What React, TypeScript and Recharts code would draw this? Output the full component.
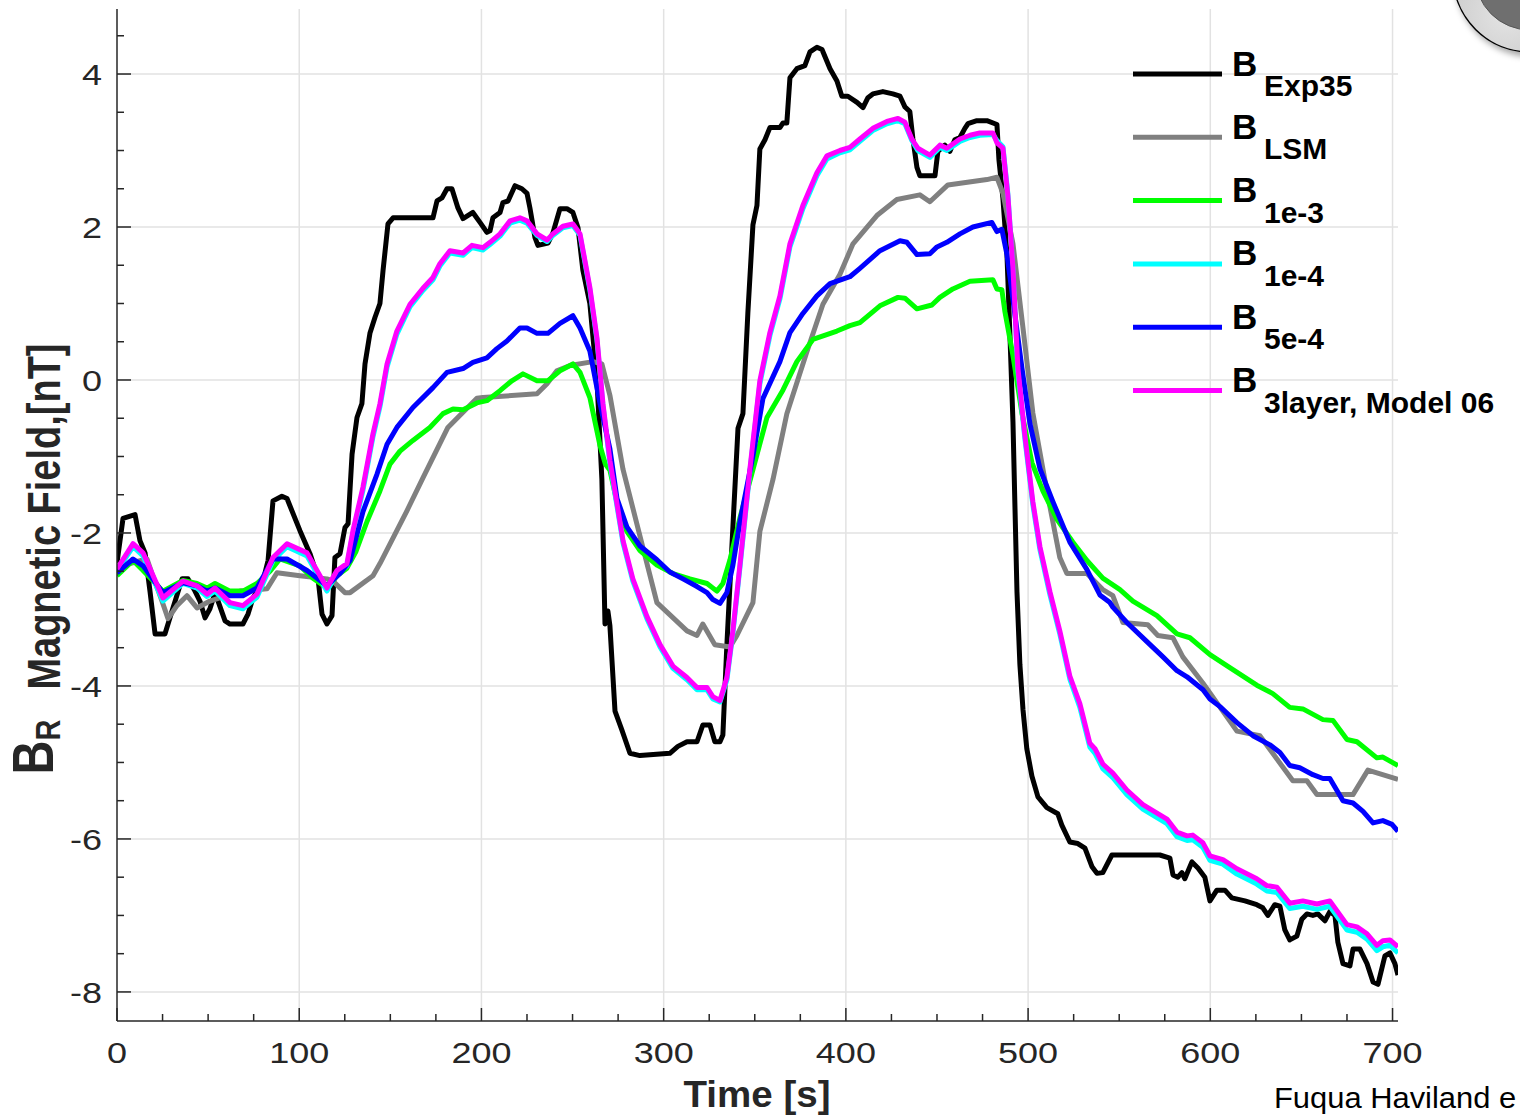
import React from 'react';
import { LineChart, Line, XAxis, YAxis, CartesianGrid, Legend } from 'recharts';

// plot box in page pixels (chart is pinned to the top-left corner)
const PLOT = { left: 117, right: 1398, top: 9, bottom: 1021 };
const AXIS_COLOR = '#262626';
const FONT = '"Liberation Sans", Arial, Helvetica, sans-serif';

const xTicks = [0, 25, 50, 75, 100, 125, 150, 175, 200, 225, 250, 275, 300, 325, 350, 375, 400, 425, 450, 475, 500, 525, 550, 575, 600, 625, 650, 675, 700];
const yTicks = [-8, -7.5, -7, -6.5, -6, -5.5, -5, -4.5, -4, -3.5, -3, -2.5, -2, -1.5, -1, -0.5, 0, 0.5, 1, 1.5, 2, 2.5, 3, 3.5, 4, 4.5];
const xGrid = [100, 200, 300, 400, 500, 600, 700];
const yGrid = [-8, -6, -4, -2, 0, 2, 4];

const seriesNames = ['Exp35', 'LSM', '1e-3', '1e-4', '5e-4', '3layer, Model 06'];
const seriesColors = ['#000000', '#808080', '#00ff00', '#00ffff', '#0000ff', '#ff00ff'];

// [time s, B_R nT]
const exp35: [number, number][] = [
  [0, -2.39], [3.3, -1.81], [9.9, -1.76], [12.6, -2.1], [15.4, -2.26], [18.1, -2.76], [20.9, -3.32], [26.3, -3.32], [30.2, -3.02], [35.7, -2.6],
  [39, -2.6], [42.8, -2.76], [45.5, -2.89], [48.3, -3.11], [51, -2.99], [53.8, -2.78], [59.3, -3.15], [62, -3.19], [69.1, -3.19], [71.9, -3.06],
  [74.6, -2.85], [80.1, -2.63], [82.9, -2.36], [85.6, -1.58], [90.5, -1.52], [93.3, -1.55], [100.4, -1.97], [105.9, -2.27], [110.3, -2.59], [112.5, -3.06],
  [115.2, -3.19], [118, -3.08], [119.6, -2.32], [122.4, -2.27], [125.1, -1.93], [126.8, -1.88], [129, -0.97], [131.7, -0.49], [134.4, -0.31], [136.1, 0.21],
  [138.8, 0.61], [141.6, 0.82], [144.3, 1.0], [146, 1.43], [148.7, 2.04], [151.5, 2.12], [173.4, 2.12], [175.6, 2.34], [178.3, 2.38], [181.1, 2.5],
  [183.8, 2.5], [187.1, 2.25], [189.9, 2.11], [195.3, 2.19], [199.2, 2.06], [203, 1.93], [204.7, 1.95], [206.3, 2.12], [210.2, 2.19], [211.8, 2.32],
  [214.6, 2.34], [218.4, 2.54], [222.2, 2.5], [225, 2.44], [226.6, 2.25], [229.4, 1.86], [231, 1.76], [236.5, 1.79], [239.2, 1.92], [243.1, 2.24],
  [246.9, 2.24], [250.2, 2.19], [253, 1.99], [255.7, 1.43], [259.5, 1.0], [263.4, 0.0], [266.1, -1.3], [267.8, -3.19], [269.4, -3.02], [270.5, -3.21],
  [273.3, -4.33], [277, -4.57], [281.5, -4.88], [287, -4.91], [303.4, -4.88], [307.8, -4.79], [312.8, -4.73], [318.3, -4.73], [321.5, -4.51], [325.4, -4.51],
  [328.1, -4.73], [330.9, -4.73], [332.5, -4.64], [334.7, -3.46], [338, -1.92], [340.8, -0.63], [343.5, -0.44], [346.2, 0.87], [349, 2.03], [351.2, 2.28],
  [352.8, 3.02], [355.6, 3.14], [358.3, 3.3], [363.8, 3.3], [365.5, 3.36], [367.6, 3.36], [369.3, 3.95], [373.1, 4.07], [377.5, 4.11], [380.3, 4.29],
  [384.1, 4.35], [386.9, 4.32], [391.3, 4.07], [395.1, 3.91], [397.8, 3.71], [401.1, 3.71], [406.1, 3.63], [409.4, 3.56], [412.1, 3.69], [414.8, 3.74],
  [420.3, 3.77], [425.8, 3.74], [429.7, 3.71], [432.4, 3.57], [435.1, 3.51], [436.8, 3.15], [439, 2.78], [440.6, 2.67], [448.9, 2.67], [450.5, 2.99],
  [454.3, 3.07], [457.1, 2.99], [459.8, 3.14], [462.6, 3.17], [465.3, 3.29], [467, 3.35], [471.9, 3.39], [477.4, 3.39], [482.9, 3.34], [484, 2.88],
  [486.2, 2.37], [488.4, 1.64], [490, 0.61], [491.7, -0.55], [492.8, -1.67], [493.9, -2.77], [495.5, -3.72], [497.2, -4.31], [499.3, -4.82], [502.1, -5.18],
  [505.4, -5.45], [510.3, -5.59], [516.3, -5.67], [518.5, -5.82], [522.9, -6.04], [527.3, -6.06], [531.2, -6.12], [535, -6.36], [537.8, -6.45], [541, -6.44],
  [546, -6.21], [572.3, -6.21], [577.8, -6.25], [579.5, -6.47], [582.2, -6.5], [584.4, -6.44], [586, -6.52], [589.9, -6.3], [593.2, -6.38], [597, -6.5],
  [599.8, -6.81], [603.6, -6.67], [608, -6.67], [611.8, -6.77], [619, -6.81], [625.5, -6.86], [628.8, -6.9], [631.6, -7.0], [635.4, -6.86], [638.2, -6.88],
  [640.9, -7.19], [643.6, -7.32], [647.5, -7.27], [650.2, -7.05], [653, -6.98], [656.3, -7.0], [659, -6.98], [662.9, -7.07], [665.6, -6.95], [668.4, -7.0],
  [670, -7.35], [672.8, -7.63], [676.6, -7.66], [678.3, -7.44], [682.1, -7.44], [686, -7.63], [689.3, -7.87], [692, -7.9], [695.8, -7.53], [698.6, -7.49],
  [701.3, -7.63], [703, -7.78],
];

const lsm: [number, number][] = [
  [0, -2.45], [10, -2.38], [16.5, -2.34], [19.2, -2.53], [24.7, -2.89], [28, -3.12], [32.9, -2.95], [38.4, -2.82], [43.9, -2.98], [51, -2.89],
  [60, -2.82], [67.5, -2.76], [82.3, -2.73], [87.8, -2.52], [100.4, -2.56], [115.2, -2.6], [118.5, -2.63], [125.1, -2.78], [127.9, -2.78], [140.5, -2.56],
  [144.3, -2.4], [159.1, -1.71], [167.9, -1.28], [181.6, -0.62], [197.5, -0.24], [200.8, -0.23], [230.5, -0.18], [236, -0.05], [241.4, 0.12], [248.6, 0.19],
  [261.2, 0.24], [266.1, 0.21], [270.5, -0.2], [277.7, -1.17], [287, -2.04], [296.3, -2.91], [312.8, -3.28], [318.3, -3.34], [321.5, -3.19], [328.1, -3.46],
  [336.4, -3.49], [340.2, -3.34], [349, -2.91], [352.8, -1.98], [360, -1.3], [367.6, -0.44], [378.6, 0.37], [387.4, 0.99], [396.7, 1.38], [403.9, 1.78],
  [417, 2.15], [428, 2.36], [440.6, 2.42], [446.1, 2.33], [456, 2.55], [477.4, 2.62], [482.9, 2.65], [486.2, 2.44], [491.7, 1.78], [497.2, 0.68],
  [502.6, -0.43], [510.3, -1.45], [517.4, -2.32], [521.3, -2.53], [532.3, -2.53], [541, -2.74], [546.5, -2.82], [552, -3.17], [565.7, -3.2], [571.2, -3.34],
  [579.5, -3.37], [584.9, -3.62], [595.9, -3.96], [614.6, -4.59], [627.2, -4.65], [645.3, -5.24], [653, -5.24], [658.5, -5.42], [678.3, -5.42], [686.5, -5.1],
  [703, -5.22],
];

const b1e3: [number, number][] = [
  [0, -2.56], [8.8, -2.36], [14.3, -2.49], [25.2, -2.76], [36.2, -2.62], [43.9, -2.66], [49.4, -2.72], [53.8, -2.66], [62, -2.76], [69.1, -2.76],
  [76.8, -2.66], [84, -2.5], [89.4, -2.34], [100.4, -2.43], [107.5, -2.59], [115.2, -2.72], [120.7, -2.56], [126.2, -2.46], [131, -2.25], [137.2, -1.85],
  [144.3, -1.45], [149.8, -1.1], [155.3, -0.93], [162.4, -0.79], [171.7, -0.62], [178.9, -0.44], [184.4, -0.38], [189.9, -0.39], [197.5, -0.3], [203, -0.27],
  [210.2, -0.14], [216.7, -0.01], [222.8, 0.08], [230.5, -0.01], [236.5, -0.01], [243.1, 0.12], [250.2, 0.21], [254.1, 0.1], [259.5, -0.23], [265, -0.85],
  [268, -1.1], [270.5, -1.18], [274.4, -1.6], [279.8, -1.98], [287, -2.23], [296.3, -2.42], [305.1, -2.53], [314.4, -2.6], [323.8, -2.66], [329.2, -2.76],
  [332.5, -2.66], [336.4, -2.35], [341.9, -1.8], [349, -1.17], [356.7, -0.49], [365.5, -0.13], [373.1, 0.24], [381.9, 0.53], [395.1, 0.64], [402.2, 0.71],
  [407.7, 0.75], [418.7, 0.97], [428.6, 1.08], [432.4, 1.07], [439, 0.93], [447.2, 0.98], [451.6, 1.08], [458.7, 1.19], [468.1, 1.29], [480.7, 1.31],
  [482.9, 1.19], [485.6, 1.18], [487.3, 0.89], [491.7, 0.32], [496.6, -0.43], [502.1, -1.08], [508.1, -1.45], [515.8, -1.82], [524.6, -2.12], [532.3, -2.36],
  [541, -2.59], [550.4, -2.74], [557.5, -2.89], [570.7, -3.08], [581.7, -3.32], [588.8, -3.37], [599.8, -3.59], [610.7, -3.76], [625.5, -3.99], [634.3, -4.1],
  [643.6, -4.28], [650.8, -4.3], [661.8, -4.44], [667.3, -4.45], [675, -4.7], [680.5, -4.73], [691.4, -4.94], [694.7, -4.93], [703, -5.04],
];

const b1e4: [number, number][] = [
  [0, -2.5], [8.8, -2.18], [14.3, -2.3], [25.2, -2.89], [36.2, -2.66], [43.9, -2.72], [49.4, -2.83], [53.8, -2.76], [62, -2.95], [69.1, -2.99],
  [76.8, -2.84], [85.6, -2.36], [93.3, -2.18], [104.3, -2.3], [115.2, -2.76], [120.7, -2.53], [126.2, -2.43], [129.5, -2.0], [135, -1.44], [140.5, -0.74],
  [144.3, -0.35], [148.2, 0.17], [153.6, 0.6], [160.8, 0.96], [167.9, 1.17], [173.4, 1.31], [177.2, 1.49], [182.7, 1.66], [189.9, 1.63], [194.8, 1.73],
  [200.8, 1.7], [204.7, 1.77], [210.2, 1.88], [215.7, 2.05], [221.1, 2.09], [225, 2.05], [230.5, 1.89], [236, 1.81], [239.2, 1.89], [244.7, 1.99],
  [250.2, 2.02], [254.1, 1.89], [259.5, 1.18], [263.4, 0.52], [266.7, -0.34], [270.5, -1.08], [272.2, -1.33], [277.7, -2.13], [283.1, -2.63], [290.8, -3.12],
  [298, -3.49], [305.1, -3.77], [312.8, -3.92], [318.3, -4.05], [323.8, -4.05], [327, -4.17], [330.9, -4.21], [334.7, -3.92], [338, -3.31], [341.9, -2.44],
  [347.3, -1.2], [352.8, -0.05], [358.3, 0.58], [363.8, 1.06], [369.3, 1.74], [376.4, 2.24], [384.1, 2.67], [389.6, 2.89], [396.7, 2.97], [402.2, 3.01],
  [407.7, 3.12], [414.8, 3.26], [422.5, 3.35], [428.6, 3.39], [432.4, 3.35], [436.2, 3.13], [439.5, 3.0], [446.1, 2.91], [451.6, 3.04], [455.4, 3.0],
  [462.6, 3.12], [468.1, 3.17], [473.5, 3.2], [480.7, 3.21], [482.9, 3.13], [486.2, 3.05], [488.9, 2.43], [491.7, 1.44], [494.4, 0.12], [498.2, -0.76],
  [502.6, -1.63], [506.5, -2.22], [512, -2.81], [517.4, -3.32], [522.9, -3.91], [528.4, -4.28], [533.9, -4.8], [536.7, -4.88], [541, -5.08], [546.5, -5.2],
  [554.2, -5.42], [563, -5.61], [576.2, -5.8], [581.7, -5.97], [587.2, -6.02], [590.4, -6.01], [595.9, -6.11], [599.8, -6.28], [606.9, -6.33], [614.6, -6.46],
  [625.5, -6.59], [631, -6.68], [636.5, -6.7], [643.6, -6.91], [650.8, -6.88], [658.5, -6.92], [665.6, -6.88], [675, -7.19], [680.5, -7.22], [686, -7.31],
  [691.4, -7.46], [694.7, -7.41], [698.6, -7.39], [703, -7.49],
];

const b5e4: [number, number][] = [
  [0, -2.52], [8.8, -2.34], [14.3, -2.43], [25.2, -2.78], [36.2, -2.65], [43.9, -2.69], [49.4, -2.76], [53.8, -2.72], [62, -2.82], [69.1, -2.82],
  [76.8, -2.72], [85.6, -2.34], [93.3, -2.34], [104.3, -2.49], [115.2, -2.69], [122.4, -2.53], [127.9, -2.36], [135, -1.72], [142.7, -1.23], [148.2, -0.84],
  [153.6, -0.62], [162.4, -0.36], [173.4, -0.1], [181.1, 0.1], [189.9, 0.15], [195.3, 0.23], [203, 0.29], [208.5, 0.41], [214, 0.51], [221.1, 0.68],
  [225, 0.68], [230.5, 0.61], [236.5, 0.61], [243.1, 0.74], [250.2, 0.84], [254.1, 0.68], [259.5, 0.38], [265, -0.3], [270.5, -0.9], [274.4, -1.55],
  [279.8, -1.92], [287, -2.17], [296.3, -2.35], [303.4, -2.51], [310.6, -2.6], [318.3, -2.7], [323.8, -2.78], [327, -2.87], [330.9, -2.92], [334.7, -2.78],
  [338, -2.42], [341.9, -1.85], [349, -0.99], [354.5, -0.24], [363.8, 0.24], [369.3, 0.62], [376.4, 0.87], [384.1, 1.1], [391.3, 1.26], [402.2, 1.35],
  [407.7, 1.46], [418.7, 1.69], [429.7, 1.82], [433.5, 1.8], [439, 1.64], [446.1, 1.65], [450, 1.74], [455.4, 1.8], [462.6, 1.91], [469.7, 2.0],
  [480.1, 2.06], [482.9, 1.94], [485.6, 1.97], [488.4, 1.64], [491.7, 1.05], [496.6, 0.16], [501, -0.57], [506.5, -1.16], [513.6, -1.59], [522.9, -2.12],
  [532.3, -2.48], [539.4, -2.81], [544.9, -2.91], [546.5, -2.97], [554.2, -3.17], [565.2, -3.42], [574, -3.62], [581.7, -3.8], [587.2, -3.88], [596, -4.05],
  [599.8, -4.17], [605.3, -4.27], [614.6, -4.48], [623.4, -4.65], [632.7, -4.77], [638.2, -4.87], [643.6, -5.04], [649.1, -5.07], [656.3, -5.16], [661.8, -5.21],
  [665.6, -5.21], [672.8, -5.5], [678.3, -5.53], [683.8, -5.64], [689.3, -5.79], [694.7, -5.76], [699.7, -5.81], [703, -5.9],
];

const layer3: [number, number][] = [
  [0, -2.47], [8.8, -2.14], [14.3, -2.26], [25.2, -2.85], [36.2, -2.63], [43.9, -2.69], [49.4, -2.8], [53.8, -2.72], [62, -2.91], [69.1, -2.95],
  [76.8, -2.8], [85.6, -2.32], [93.3, -2.14], [104.3, -2.26], [115.2, -2.72], [120.7, -2.49], [126.2, -2.4], [129.5, -1.97], [135, -1.4], [140.5, -0.7],
  [144.3, -0.31], [148.2, 0.21], [153.6, 0.64], [160.8, 0.99], [167.9, 1.2], [173.4, 1.34], [177.2, 1.52], [182.7, 1.69], [189.9, 1.66], [194.8, 1.76],
  [200.8, 1.73], [204.7, 1.8], [210.2, 1.91], [215.7, 2.08], [221.1, 2.12], [225, 2.08], [230.5, 1.91], [236, 1.83], [239.2, 1.91], [244.7, 2.01],
  [250.2, 2.04], [254.1, 1.91], [259.5, 1.21], [263.4, 0.55], [266.7, -0.31], [270.5, -1.05], [272.2, -1.3], [277.7, -2.1], [283.1, -2.6], [290.8, -3.09],
  [298, -3.46], [305.1, -3.74], [312.8, -3.89], [318.3, -4.02], [323.8, -4.02], [327, -4.14], [330.9, -4.19], [334.7, -3.89], [338, -3.28], [341.9, -2.41],
  [347.3, -1.17], [352.8, -0.01], [358.3, 0.62], [363.8, 1.1], [369.3, 1.78], [376.4, 2.28], [384.1, 2.71], [389.6, 2.93], [396.7, 3.0], [402.2, 3.04],
  [407.7, 3.15], [414.8, 3.29], [422.5, 3.38], [428.6, 3.42], [432.4, 3.37], [436.2, 3.15], [439.5, 3.03], [446.1, 2.94], [451.6, 3.07], [455.4, 3.03],
  [462.6, 3.15], [468.1, 3.2], [473.5, 3.23], [480.7, 3.23], [482.9, 3.1], [486.2, 3.03], [488.9, 2.41], [491.7, 1.46], [494.4, 0.16], [498.2, -0.72],
  [502.6, -1.59], [506.5, -2.18], [512, -2.77], [517.4, -3.28], [522.9, -3.87], [528.4, -4.23], [533.9, -4.75], [536.7, -4.82], [541, -5.02], [546.5, -5.14],
  [554.2, -5.36], [563, -5.55], [576.2, -5.74], [581.7, -5.91], [587.2, -5.96], [590.4, -5.95], [595.9, -6.05], [599.8, -6.22], [606.9, -6.27], [614.6, -6.39],
  [625.5, -6.52], [631, -6.61], [636.5, -6.63], [643.6, -6.84], [650.8, -6.81], [658.5, -6.85], [665.6, -6.81], [675, -7.12], [680.5, -7.15], [686, -7.24],
  [691.4, -7.39], [694.7, -7.33], [698.6, -7.32], [703, -7.41],
];

const toRows = (pts: [number, number][]) => pts.map(([t, b]) => ({ t, b }));
const seriesData = [exp35, lsm, b1e3, b1e4, b5e4, layer3].map(toRows);

const BottomTick = (props: any) => {
  const { x, payload } = props;
  const major = payload.value % 100 === 0;
  return (
    <g>
      <line x1={x} x2={x} y1={PLOT.bottom} y2={PLOT.bottom - (major ? 13 : 7)} stroke={AXIS_COLOR} strokeWidth={1.5} />
      {major && (
        <text transform={`translate(${x},1063) scale(1.2,1)`} textAnchor="middle" fontSize={30} fontFamily={FONT} fill={AXIS_COLOR}>
          {payload.value}
        </text>
      )}
    </g>
  );
};

const TopTick = (props: any) => {
  const { x, payload } = props;
  const major = payload.value % 100 === 0;
  return <line x1={x} x2={x} y1={PLOT.top} y2={PLOT.top + (major ? 13 : 7)} stroke={AXIS_COLOR} strokeWidth={1.5} />;
};

const LeftTick = (props: any) => {
  const { y, payload } = props;
  const major = payload.value % 2 === 0;
  return (
    <g>
      <line x1={PLOT.left} x2={PLOT.left + (major ? 14 : 7)} y1={y} y2={y} stroke={AXIS_COLOR} strokeWidth={1.5} />
      {major && (
        <text transform={`translate(102,${y + 11}) scale(1.2,1)`} textAnchor="end" fontSize={30} fontFamily={FONT} fill={AXIS_COLOR}>
          {`${payload.value}`}
        </text>
      )}
    </g>
  );
};

const RightTick = (props: any) => {
  const { y, payload } = props;
  const major = payload.value % 2 === 0;
  return <line x1={PLOT.right} x2={PLOT.right - (major ? 14 : 7)} y1={y} y2={y} stroke={AXIS_COLOR} strokeWidth={1.5} />;
};

const XTitle = () => (
  <text transform="translate(757,1107) scale(1.07,1)" textAnchor="middle" fontSize={36} fontWeight="bold" fontFamily={FONT} fill={AXIS_COLOR}>
    Time [s]
  </text>
);

const YTitle = () => (
  <text transform="translate(60,559) scale(1.22,1) rotate(-90)" textAnchor="middle" fontWeight="bold" fontFamily={FONT} fill={AXIS_COLOR}>
    <tspan fontSize={47} dy={-6}>B</tspan>
    <tspan fontSize={29} dy={6}>R</tspan>
    <tspan fontSize={38} dx={30}>Magnetic Field,[nT]</tspan>
  </text>
);

const renderLegend = () => (
  <svg width={400} height={390} style={{ display: 'block', overflow: 'visible' }}>
    {seriesNames.map((name, i) => {
      const y = 44 + i * 63.3;
      return (
        <g key={name}>
          <line x1={13} x2={102} y1={y} y2={y} stroke={seriesColors[i]} strokeWidth={5} />
          <text x={112} y={y + 1.5} fontSize={35} fontWeight="bold" fontFamily={FONT} fill="#000">B</text>
          <text x={144} y={y + 22} fontSize={30} fontWeight="bold" fontFamily={FONT} fill="#000">{name}</text>
        </g>
      );
    })}
  </svg>
);

export default function App() {
  return (
    <div style={{ position: 'absolute', left: 0, top: 0, width: 1520, height: 1116, background: '#fff', overflow: 'hidden' }}>
      <LineChart width={1520} height={1116} margin={{ top: 9, right: 122, bottom: 0, left: 0 }}>
        <CartesianGrid stroke="#e2e2e2" strokeWidth={1.5} horizontalValues={yGrid} verticalValues={xGrid} />
        <XAxis
          dataKey="t"
          type="number"
          domain={[0, 703]}
          allowDataOverflow
          ticks={xTicks}
          interval={0}
          height={95}
          tick={<BottomTick />}
          tickLine={false}
          axisLine={{ stroke: AXIS_COLOR, strokeWidth: 1.5 }}
          label={<XTitle />}
        />
        <XAxis
          xAxisId="top"
          orientation="top"
          type="number"
          domain={[0, 703]}
          allowDataOverflow
          ticks={xTicks}
          interval={0}
          height={0}
          tick={<TopTick />}
          tickLine={false}
          axisLine={{ stroke: AXIS_COLOR, strokeWidth: 1.5 }}
        />
        <YAxis
          type="number"
          domain={[-8.38, 4.85]}
          allowDataOverflow
          ticks={yTicks}
          interval={0}
          width={117}
          tick={<LeftTick />}
          tickLine={false}
          axisLine={{ stroke: AXIS_COLOR, strokeWidth: 1.5 }}
          label={<YTitle />}
        />
        <YAxis
          yAxisId="right"
          orientation="right"
          type="number"
          domain={[-8.38, 4.85]}
          allowDataOverflow
          ticks={yTicks}
          interval={0}
          width={0}
          tick={<RightTick />}
          tickLine={false}
          axisLine={{ stroke: AXIS_COLOR, strokeWidth: 1.5 }}
        />
        <Legend
          layout="vertical"
          align="center"
          verticalAlign="middle"
          content={renderLegend}
          wrapperStyle={{ left: 1120, top: 30, width: 400, height: 390 }}
        />
        {seriesData.map((rows, i) => (
          <Line
            key={seriesNames[i]}
            data={rows}
            dataKey="b"
            name={seriesNames[i]}
            type="linear"
            stroke={seriesColors[i]}
            strokeWidth={5}
            strokeLinejoin="round"
            dot={false}
            activeDot={false}
            isAnimationActive={false}
          />
        ))}
      </LineChart>
      <svg width={1520} height={1116} style={{ position: 'absolute', left: 0, top: 0, pointerEvents: 'none' }}>
        <defs>
          <radialGradient id="knobOuter" cx="0.35" cy="0.75" r="0.8">
            <stop offset="0" stopColor="#e4e4e4" />
            <stop offset="1" stopColor="#b4b4b4" />
          </radialGradient>
          <filter id="knobShadow" x="-0.3" y="-0.3" width="1.6" height="1.6">
            <feGaussianBlur stdDeviation="3" />
          </filter>
        </defs>
        <circle cx={1533} cy={-21} r={78} fill="rgba(0,0,0,0.35)" filter="url(#knobShadow)" />
        <circle cx={1530} cy={-25} r={77} fill="url(#knobOuter)" stroke="#000" strokeWidth={1.5} />
        <circle cx={1530} cy={-25} r={55} fill="#6f6f6f" stroke="#555" strokeWidth={1} />
        <text transform="translate(1274,1108) scale(1.03,1)" fontSize={30} fontFamily={FONT} fill="#000">
          Fuqua Haviland e
        </text>
      </svg>
    </div>
  );
}
